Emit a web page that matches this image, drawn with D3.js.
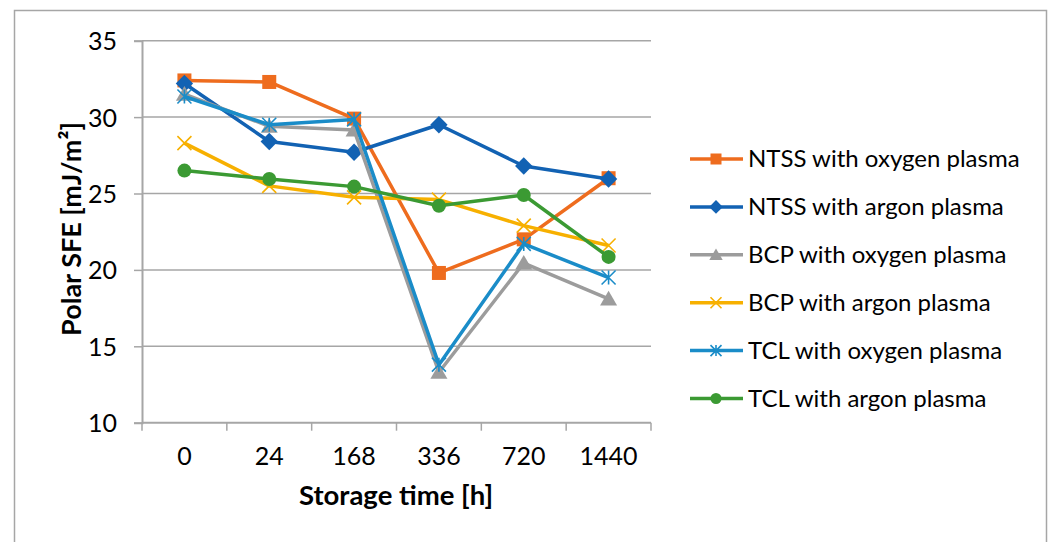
<!DOCTYPE html>
<html>
<head>
<meta charset="utf-8">
<script src="https://cdn.jsdelivr.net/npm/d3@7"></script>
<style>
  html, body { margin: 0; padding: 0; background: #fff; }
  svg { display: block; }
  text { font-family: Lato, "Open Sans", sans-serif; fill: #000; }
</style>
</head>
<body>
<div id="chart"></div>
<script>
// Storage time categories (hours)
const categories = ["0", "24", "168", "336", "720", "1440"];

// Polar surface free energy [mJ/m²] per series
const ntssOxygen = [32.4, 32.3, 29.9, 19.8, 22.0, 26.0];
const ntssArgon  = [32.2, 28.4, 27.7, 29.5, 26.8, 25.95];
const bcpOxygen  = [31.5, 29.4, 29.15, 13.3, 20.45, 18.1];
const bcpArgon   = [28.3, 25.5, 24.75, 24.6, 22.9, 21.6];
const tclOxygen  = [31.35, 29.5, 29.85, 13.8, 21.7, 19.5];
const tclArgon   = [26.5, 25.95, 25.45, 24.2, 24.9, 20.85];

const yTicks = [10, 15, 20, 25, 30, 35];

const series = [
  { name: "NTSS with oxygen plasma", values: ntssOxygen, color: "#EE6C1E", marker: "square" },
  { name: "NTSS with argon plasma",  values: ntssArgon,  color: "#1262B3", marker: "diamond" },
  { name: "BCP with oxygen plasma",  values: bcpOxygen,  color: "#9C9C9C", marker: "triangle" },
  { name: "BCP with argon plasma",   values: bcpArgon,   color: "#F7B000", marker: "x" },
  { name: "TCL with oxygen plasma",  values: tclOxygen,  color: "#1A8CC8", marker: "star" },
  { name: "TCL with argon plasma",   values: tclArgon,   color: "#3B9A33", marker: "circle" }
];

const W = 1051, H = 542;
const plot = { left: 142, right: 651, top: 40.7, bottom: 422.7 };

const svg = d3.select("#chart").append("svg")
  .attr("width", W).attr("height", H);

// chart frame
svg.append("rect")
  .attr("x", 14.5).attr("y", 10.5)
  .attr("width", 1032).attr("height", 560)
  .attr("fill", "#fff").attr("stroke", "#A6A6A6").attr("stroke-width", 1.5);

const x = d3.scaleBand().domain(categories).range([plot.left, plot.right]);
const y = d3.scaleLinear().domain([10, 35]).range([plot.bottom, plot.top]);

// horizontal gridlines
svg.append("g").selectAll("line").data(yTicks.filter(t => t !== 10)).join("line")
  .attr("x1", plot.left).attr("x2", plot.right)
  .attr("y1", d => y(d)).attr("y2", d => y(d))
  .attr("stroke", "#A6A6A6").attr("stroke-width", 1.5);

// y axis
const yAxis = svg.append("g")
  .attr("transform", `translate(${plot.left},0)`)
  .call(d3.axisLeft(y).tickValues(yTicks).tickSize(8).tickPadding(17).tickFormat(d3.format("d")));
yAxis.select(".domain").attr("stroke", "#A6A6A6").attr("stroke-width", 2);
yAxis.selectAll(".tick line").attr("stroke", "#A6A6A6").attr("stroke-width", 1.5);
yAxis.selectAll(".tick text").attr("font-size", 25).attr("font-family", "Lato").attr("fill", "#000")
  .attr("dy", "0.36em");

// x axis with category boundary ticks
const xAxisG = svg.append("g").attr("transform", `translate(0,${plot.bottom})`);
xAxisG.append("line")
  .attr("x1", plot.left).attr("x2", plot.right)
  .attr("stroke", "#A6A6A6").attr("stroke-width", 2);
const bounds = categories.map(c => x(c)).concat([x(categories[categories.length - 1]) + x.bandwidth()]);
xAxisG.selectAll("line.tk").data(bounds).join("line").attr("class", "tk")
  .attr("x1", d => d).attr("x2", d => d).attr("y1", 0).attr("y2", 8)
  .attr("stroke", "#A6A6A6").attr("stroke-width", 1.5);
xAxisG.selectAll("text").data(categories).join("text")
  .attr("x", d => x(d) + x.bandwidth() / 2)
  .attr("y", 42)
  .attr("text-anchor", "middle")
  .attr("font-size", 25)
  .text(d => d);

// axis titles
svg.append("text")
  .attr("transform", `translate(81,229) rotate(-90)`)
  .attr("text-anchor", "middle")
  .attr("font-size", 27).attr("font-weight", "bold")
  .text("Polar SFE [mJ/m²]");
svg.append("text")
  .attr("x", 396).attr("y", 505)
  .attr("text-anchor", "middle")
  .attr("font-size", 27.5).attr("font-weight", "bold")
  .text("Storage time [h]");

// marker drawing
function drawMarker(g, type, color, size) {
  const s = size;
  if (type === "square") {
    g.append("rect").attr("x", -s / 2).attr("y", -s / 2).attr("width", s).attr("height", s).attr("fill", color);
  } else if (type === "diamond") {
    const r = s * 0.62;
    g.append("path").attr("d", `M0,${-r}L${r},0L0,${r}L${-r},0Z`).attr("fill", color);
  } else if (type === "triangle") {
    const r = s * 0.58;
    g.append("path").attr("d", `M0,${-r}L${r * 1.05},${r * 0.8}L${-r * 1.05},${r * 0.8}Z`).attr("fill", color);
  } else if (type === "circle") {
    g.append("circle").attr("r", s / 2).attr("fill", color);
  } else if (type === "x") {
    const r = s / 2;
    g.append("path").attr("d", `M${-r},${-r}L${r},${r}M${-r},${r}L${r},${-r}`)
      .attr("stroke", color).attr("stroke-width", 1.6).attr("fill", "none");
  } else if (type === "star") {
    const r = s / 2;
    g.append("path").attr("d", `M${-r},${-r}L${r},${r}M${-r},${r}L${r},${-r}M0,${-r}L0,${r}`)
      .attr("stroke", color).attr("stroke-width", 1.6).attr("fill", "none");
  }
}

const line = d3.line()
  .x((d, i) => x(categories[i]) + x.bandwidth() / 2)
  .y(d => y(d));

const seriesG = svg.append("g");
series.forEach(s => {
  const g = seriesG.append("g");
  g.append("path").datum(s.values)
    .attr("d", line)
    .attr("fill", "none").attr("stroke", s.color)
    .attr("stroke-width", 3.5).attr("stroke-linejoin", "round");
  s.values.forEach((v, i) => {
    const mg = g.append("g").attr("transform",
      `translate(${x(categories[i]) + x.bandwidth() / 2},${y(v)})`);
    drawMarker(mg, s.marker, s.color, 14);
  });
});

// legend
const legend = svg.append("g");
series.forEach((s, i) => {
  const yy = 159 + i * 47.9;
  const lg = legend.append("g").attr("transform", `translate(0,${yy})`);
  lg.append("line").attr("x1", 690).attr("x2", 743).attr("y1", 0).attr("y2", 0)
    .attr("stroke", s.color).attr("stroke-width", 3.5);
  const mg = lg.append("g").attr("transform", "translate(716,0)");
  drawMarker(mg, s.marker, s.color, 11);
  lg.append("text").attr("x", 748).attr("y", 0).attr("dy", "0.35em")
    .attr("font-size", 24).text(s.name);
});
</script>
</body>
</html>
